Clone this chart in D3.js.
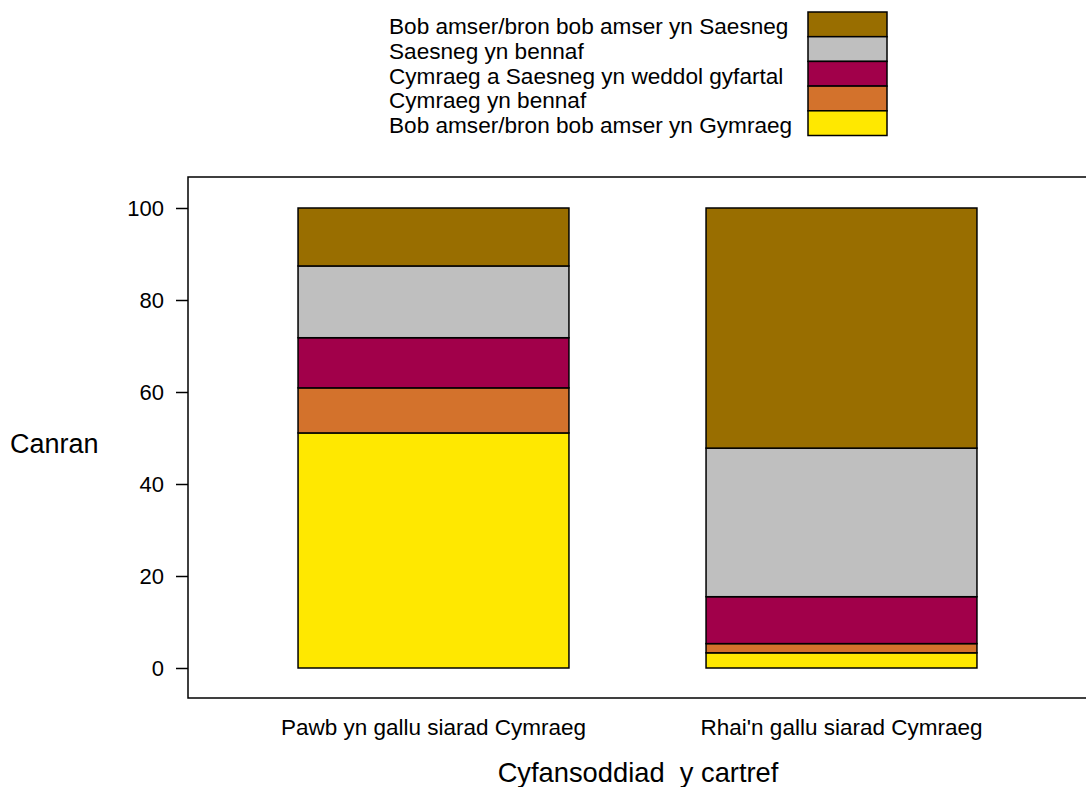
<!DOCTYPE html>
<html>
<head>
<meta charset="utf-8">
<script src="https://cdn.jsdelivr.net/npm/d3@7"></script>
<style>
  html, body { margin: 0; padding: 0; background: #fff; }
  svg { display: block; font-family: Arial, "Liberation Sans", sans-serif; }
</style>
</head>
<body>
<svg id="chart" width="1086" height="787"></svg>
<script>
// ---- data ----
const categories = ["Pawb yn gallu siarad Cymraeg", "Rhai'n gallu siarad Cymraeg"];
const seriesNames = [
  "Bob amser/bron bob amser yn Gymraeg",
  "Cymraeg yn bennaf",
  "Cymraeg a Saesneg yn weddol gyfartal",
  "Saesneg yn bennaf",
  "Bob amser/bron bob amser yn Saesneg"
];
const seriesColors = ["#FFE800", "#D3722C", "#A1004A", "#BFBFBF", "#996E00"];
const valuesAlways_Welsh  = [51.1, 3.3];
const valuesMainly_Welsh  = [9.8, 2.0];
const valuesEqual         = [10.9, 10.2];
const valuesMainly_English= [15.6, 32.3];
const valuesAlways_English= [12.6, 52.2];
const yTicks = [0, 20, 40, 60, 80, 100];
const xTitle = "Cyfansoddiad  y cartref";
const yTitle = "Canran";

const seriesValues = [valuesAlways_Welsh, valuesMainly_Welsh, valuesEqual, valuesMainly_English, valuesAlways_English];

// ---- layout ----
const svg = d3.select("#chart");
const plotLeft = 188, plotTop = 177, plotRight = 1087, plotBottom = 698;

const x = d3.scaleBand().domain(categories).range([plotLeft, plotRight])
  .paddingInner(0.336).paddingOuter(0.2697);
const y = d3.scaleLinear().domain([0, 100]).range([668, 208]);

// table for stacking
const rows = categories.map((c, i) => {
  const r = { cat: c };
  seriesNames.forEach((s, j) => r[s] = seriesValues[j][i]);
  return r;
});
const stack = d3.stack().keys(seriesNames)(rows);
const color = d3.scaleOrdinal().domain(seriesNames).range(seriesColors);

// plot box
svg.append("rect")
  .attr("x", plotLeft).attr("y", plotTop)
  .attr("width", plotRight - plotLeft).attr("height", plotBottom - plotTop)
  .attr("fill", "none").attr("stroke", "#000").attr("stroke-width", 1.5);

// bars
svg.append("g").selectAll("g").data(stack).join("g")
  .attr("fill", d => color(d.key))
  .selectAll("rect").data(d => d).join("rect")
  .attr("x", d => x(d.data.cat))
  .attr("width", x.bandwidth())
  .attr("y", d => y(d[1]))
  .attr("height", d => y(d[0]) - y(d[1]))
  .attr("stroke", "#000").attr("stroke-width", 1.5);

// y axis
const yAxis = d3.axisLeft(y).tickValues(yTicks).tickSize(12).tickPadding(12).tickFormat(d3.format("d"));
const gy = svg.append("g").attr("transform", `translate(${plotLeft},0)`).call(yAxis);
gy.select(".domain").remove();
gy.selectAll(".tick line").attr("stroke", "#000").attr("stroke-width", 1.5);
gy.selectAll(".tick text").attr("font-size", 22).attr("fill", "#000")
  .attr("font-family", "Arial, 'Liberation Sans', sans-serif");

// x category labels
svg.append("g").selectAll("text").data(categories).join("text")
  .attr("x", d => x(d) + x.bandwidth() / 2)
  .attr("y", 735)
  .attr("text-anchor", "middle")
  .attr("font-size", 22.5)
  .text(d => d);

// axis titles
svg.append("text").attr("x", 638).attr("y", 782).attr("text-anchor", "middle")
  .attr("font-size", 27.3).style("white-space", "pre").attr("xml:space", "preserve").text(xTitle);
svg.append("text").attr("x", 10).attr("y", 453).attr("text-anchor", "start")
  .attr("font-size", 27).text(yTitle);

// legend (reverse order, top = last series)
const legendItems = seriesNames.map((s, i) => ({ name: s, color: seriesColors[i] })).reverse();
const legY = d3.scaleBand().domain(legendItems.map(d => d.name)).range([12, 135.5]);
const leg = svg.append("g");
leg.selectAll("rect").data(legendItems).join("rect")
  .attr("x", 808).attr("width", 79)
  .attr("y", d => legY(d.name)).attr("height", legY.bandwidth())
  .attr("fill", d => d.color).attr("stroke", "#000").attr("stroke-width", 1.5);
leg.selectAll("text").data(legendItems).join("text")
  .attr("x", 389).attr("y", d => legY(d.name) + legY.bandwidth() - 2.5)
  .attr("font-size", 22.6).text(d => d.name);
</script>
</body>
</html>
